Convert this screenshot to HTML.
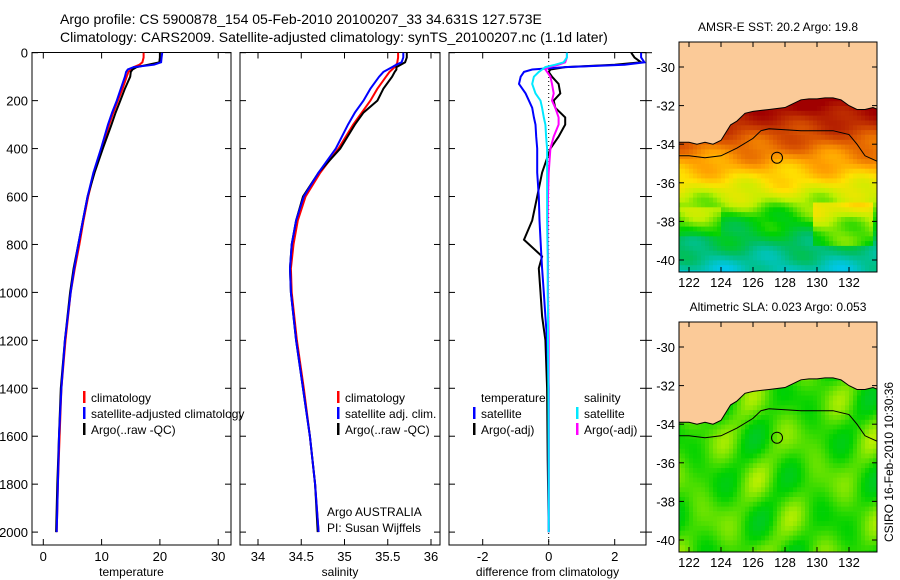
<!DOCTYPE html>
<html><head><meta charset="utf-8">
<style>
body{margin:0;background:#fff;}
svg{display:block;font-family:"Liberation Sans",sans-serif;}
</style></head>
<body>
<svg id="c" width="900" height="580" xmlns="http://www.w3.org/2000/svg">
<text x="60" y="24" font-size="14">Argo profile: CS 5900878_154 05-Feb-2010 20100207_33 34.631S 127.573E</text>
<text x="60" y="42" font-size="14">Climatology: CARS2009. Satellite-adjusted climatology: synTS_20100207.nc (1.1d later)</text>
<g id="g"></g>
<text transform="translate(893,462) rotate(-90)" font-size="12" text-anchor="middle">CSIRO 16-Feb-2010 10:30:36</text>
</svg>
<script>
const depths=[0,20,40,50,60,70,80,100,150,200,250,300,400,500,600,700,800,900,1000,1200,1400,1600,1800,2000];
const tempArgo=[20,20,19.9,18,16,15.3,15,14.9,14,13.2,12.4,11.7,10.2,8.8,7.6,6.8,6.0,5.2,4.6,3.7,3.0,2.7,2.4,2.2];
const tempClim=[17.2,17.2,17,16.5,15.5,15,14.6,14.3,13.6,12.8,12,11.3,10,8.7,7.7,6.9,6.2,5.4,4.7,3.8,3.1,2.8,2.5,2.3];
const tempSat=[20.4,20.3,20.2,19,15.5,14.5,14.2,14,13.3,12.6,11.8,11.1,9.9,8.6,7.6,6.8,6.0,5.3,4.7,3.7,3.1,2.7,2.5,2.3];
const salArgo=[35.72,35.72,35.7,35.65,35.6,35.6,35.58,35.55,35.45,35.38,35.22,35.12,34.95,34.7,34.52,34.44,34.39,34.37,34.38,34.44,34.52,34.6,34.66,34.69];
const salClim=[35.62,35.62,35.61,35.6,35.58,35.55,35.52,35.48,35.38,35.3,35.2,35.1,34.93,34.72,34.55,34.46,34.41,34.38,34.39,34.45,34.53,34.6,34.66,34.7];
const salSat=[35.68,35.68,35.66,35.6,35.55,35.5,35.45,35.4,35.3,35.22,35.12,35.04,34.9,34.7,34.53,34.44,34.39,34.37,34.38,34.44,34.52,34.6,34.66,34.7];
const diffDepths=[0,20,40,50,60,70,80,100,130,170,200,230,270,300,350,400,500,600,700,780,850,900,1000,1100,1200,1400,1700,2000];
const tDiffSat=[2.8,2.8,2.9,2.3,0.5,-0.5,-0.75,-0.85,-0.9,-0.7,-0.6,-0.5,-0.45,-0.4,-0.38,-0.35,-0.35,-0.3,-0.28,-0.25,-0.22,-0.2,-0.15,-0.1,-0.05,0,0,0];
const tDiffArgo=[2.5,2.6,2.8,2.0,0.5,0.05,0,0.1,0.3,0.35,0.15,0.2,0.5,0.5,0.3,0.05,-0.2,-0.35,-0.5,-0.75,-0.2,-0.3,-0.25,-0.2,-0.1,-0.05,-0.03,0];
const sDiffSat=[0.55,0.55,0.45,0.2,-0.1,-0.2,-0.3,-0.45,-0.5,-0.4,-0.25,-0.2,-0.15,-0.1,-0.08,-0.05,-0.05,-0.05,-0.05,-0.04,-0.03,-0.03,-0.03,-0.02,-0.02,-0.01,0,0];
const sDiffArgo=[0.55,0.55,0.5,0.3,0,-0.1,-0.05,0.05,0.1,0.15,0.1,0.2,0.3,0.3,0.15,0.05,0,-0.02,-0.03,-0.03,-0.02,-0.02,-0.02,-0.01,0,0,0,0];
const depthTicks=[0,200,400,600,800,1000,1200,1400,1600,1800,2000];
const tempTicks=[0,10,20,30];
const salTicks=[34,34.5,35,35.5,36];
const diffTicks=[-2,0,2];
const latTicks=[-30,-32,-34,-36,-38,-40];
const lonTicks=[122,124,126,128,130,132];
const coastLon=[121.3,122,122.5,123,123.5,124,124.3,124.6,125,125.5,126,127,128,128.5,129,129.5,130,130.5,131,131.5,132,132.5,133,133.5,133.8];
const coastLat=[-33.9,-33.9,-34.0,-33.9,-34.0,-33.8,-33.4,-33.0,-32.8,-32.4,-32.3,-32.2,-32.1,-31.9,-31.7,-31.65,-31.65,-31.6,-31.6,-31.7,-32.0,-32.2,-32.2,-32.1,-32.2];
const contLon=[121.3,122,123,124,125,126,126.5,127,128,129,130,131,132,132.5,133,133.8];
const contLat=[-34.6,-34.6,-34.7,-34.6,-34.2,-33.7,-33.3,-33.2,-33.25,-33.3,-33.3,-33.3,-33.5,-34.0,-34.6,-34.9];

const NS="http://www.w3.org/2000/svg";
const G=document.getElementById('g');
function el(t,a,p){const e=document.createElementNS(NS,t);for(const k in a)e.setAttribute(k,a[k]);(p||G).appendChild(e);return e;}
const yD=d=>52.7+d*0.2397;

function panel(name,x0,x1,xs,ticks,fmt,label,rightTicks){
  const g=el('g',{});
  
  
  el('rect',{x:x0,y:52.5,width:x1-x0,height:492.5,fill:'none',stroke:'#000','stroke-width':1},g);
  depthTicks.forEach(d=>{const y=yD(d);
    el('line',{x1:x0,x2:x0+6,y1:y,y2:y,stroke:'#000'},g);
    el('line',{x1:x1-6,x2:x1,y1:y,y2:y,stroke:'#000'},g);
    if(x0<40){const t=el('text',{x:x0-4,y:y+5,'font-size':13,'text-anchor':'end'},g);t.textContent=d;
      }
    if(rightTicks){el('line',{x1:x1,x2:x1+6,y1:y,y2:y,stroke:'#000'},g);}
  });
  ticks.forEach(v=>{const x=xs(v);
    el('line',{x1:x,x2:x,y1:545,y2:539,stroke:'#000'},g);
    el('line',{x1:x,x2:x,y1:52.5,y2:58.5,stroke:'#000'},g);
    const t=el('text',{x:x,y:561,'font-size':13,'text-anchor':'middle'},g);t.textContent=fmt(v);
    
  });
  const t=el('text',{x:(x0+x1)/2,y:576,'font-size':12,'text-anchor':'middle'},g);t.textContent=label;
  
  return g;
}
function line(g,xs,vals,ds,col,name,w){
  const pts=vals.map((v,i)=>xs(v).toFixed(1)+','+yD(ds[i]).toFixed(1)).join(' ');
  const p=el('polyline',{points:pts,fill:'none',stroke:col,'stroke-width':w||2},g);
  
  
}
function legend(g,x,y,items){
  items.forEach((it,i)=>{
    el('rect',{x:x,y:y+i*16-11,width:2.5,height:12,fill:it[1]},g);
    const t=el('text',{x:x+8,y:y+i*16,'font-size':12},g);t.textContent=it[0];
    
  });
}
const xT=v=>43.3+v*5.83;
const p1=panel('temperature-panel',32,231,xT,tempTicks,v=>v,'temperature',false);
line(p1,xT,tempClim,depths,'#f00','temp-climatology-line');
line(p1,xT,tempArgo,depths,'#000','temp-argo-line');
line(p1,xT,tempSat,depths,'#0000ff','temp-satellite-line');
legend(p1,83,402,[['climatology','#f00'],['satellite-adjusted climatology','#00f'],['Argo(..raw -QC)','#000']]);
const xS=v=>258+(v-34)*86.5;
const p2=panel('salinity-panel',240,440,xS,salTicks,v=>v,'salinity',false);
line(p2,xS,salClim,depths,'#f00','sal-climatology-line');
line(p2,xS,salArgo,depths,'#000','sal-argo-line');
line(p2,xS,salSat,depths,'#0000ff','sal-satellite-line');
legend(p2,337,402,[['climatology','#f00'],['satellite adj. clim.','#00f'],['Argo(..raw -QC)','#000']]);
[['Argo AUSTRALIA',516],['PI: Susan Wijffels',532]].forEach(a=>{const t=el('text',{x:327,y:a[1],'font-size':12},p2);t.textContent=a[0];
 });
const xF=v=>548.7+v*33;
const p3=panel('difference-panel',449,646,xF,diffTicks,v=>v,'difference from climatology',true);
el('line',{x1:xF(0),x2:xF(0),y1:53,y2:545,stroke:'#000','stroke-dasharray':'1,3'},p3);
line(p3,xF,tDiffArgo,diffDepths,'#000','temp-diff-argo-line');
line(p3,xF,tDiffSat,diffDepths,'#0000ff','temp-diff-satellite-line');
line(p3,xF,sDiffArgo,diffDepths,'#ff00ff','sal-diff-argo-line');
line(p3,xF,sDiffSat,diffDepths,'#00e8ff','sal-diff-satellite-line');
{const t=el('text',{x:481,y:402,'font-size':12},p3);t.textContent='temperature';
 const u=el('text',{x:584,y:402,'font-size':12},p3);u.textContent='salinity';}
legend(p3,473,418,[['satellite','#00f'],['Argo(-adj)','#000']]);
legend(p3,576,418,[['satellite','#00e8ff'],['Argo(-adj)','#ff00ff']]);

const stops=[[0,[0,80,255]],[0.15,[0,200,255]],[0.3,[0,190,100]],[0.4,[0,210,0]],[0.5,[190,240,0]],[0.6,[255,225,0]],[0.7,[255,160,0]],[0.8,[225,95,0]],[0.9,[190,45,0]],[1,[160,0,0]]];
function cmap(t){t=Math.max(0,Math.min(1,t));for(let i=1;i<stops.length;i++){if(t<=stops[i][0]){const a=stops[i-1],b=stops[i],f=(t-a[0])/(b[0]-a[0]);return 'rgb('+a[1].map((c,k)=>Math.round(c+(b[1][k]-c)*f)).join(',')+')';}}return 'rgb(160,0,0)';}
function map(name,top,title,field){
  const g=el('g',{});
  
  const x0=679,x1=877,y0=top,y1=top+230;
  const lx=l=>689+(l-122)*16, ly=a=>top+25+(-30-a)*19.3;
  const clip='clip'+top;
  const cp=el('clipPath',{id:clip},g);el('rect',{x:x0,y:y0,width:x1-x0,height:y1-y0},cp);
  const inner=el('g',{'clip-path':'url(#'+clip+')'},g);
  for(let lon=121.25;lon<134;lon+=0.25)for(let lat=-41;lat<-31;lat+=0.25){
    el('rect',{x:lx(lon).toFixed(1),y:ly(lat+0.25).toFixed(1),width:4.3,height:5.2,fill:field(lon,lat)},inner);
  }
  const land='121,'+(top-5)+' '+coastLon.map((l,i)=>lx(l)+','+ly(coastLat[i])).join(' ')+' 880,'+ly(-32.2)+' 880,'+(top-5);
  el('polygon',{points:land,fill:'#fbca98',stroke:'none'},inner);
  const cpts=coastLon.map((l,i)=>lx(l)+','+ly(coastLat[i])).join(' ');
  el('polyline',{points:cpts,fill:'none',stroke:'#000','stroke-width':1},inner);
  const kpts=contLon.map((l,i)=>lx(l)+','+ly(contLat[i])).join(' ');
  el('polyline',{points:kpts,fill:'none',stroke:'#000','stroke-width':1},inner);
  const c=el('circle',{cx:lx(127.5),cy:ly(-34.7),r:5.5,fill:'none',stroke:'#000','stroke-width':1},g);
  
  el('rect',{x:x0,y:y0,width:x1-x0,height:y1-y0,fill:'none',stroke:'#000'},g);
  latTicks.forEach(a=>{const y=ly(a);el('line',{x1:x0,x2:x0+5,y1:y,y2:y,stroke:'#000'},g);el('line',{x1:x1-5,x2:x1,y1:y,y2:y,stroke:'#000'},g);
    const t=el('text',{x:x0-4,y:y+5,'font-size':13,'text-anchor':'end'},g);t.textContent=a;});
  lonTicks.forEach(l=>{const x=lx(l);el('line',{x1:x,x2:x,y1:y0,y2:y0+5,stroke:'#000'},g);el('line',{x1:x1-5>0?x:x,x2:x,y1:y1-5,y2:y1,stroke:'#000'},g);
    const t=el('text',{x:x,y:y1+15,'font-size':13,'text-anchor':'middle'},g);t.textContent=l;});
  const t=el('text',{x:(x0+x1)/2,y:y0-11,'font-size':12,'text-anchor':'middle'},g);t.textContent=title;
  
}
map('sst-map',42,'AMSR-E SST: 20.2 Argo: 19.8',(lon,lat)=>{
  let t=lat>-38?0.6+(lat+36)*0.1:0.4+(lat+38)*0.07;
  t+=0.03*Math.sin(lon*1.7+lat*2.3)+0.025*Math.sin(lon*0.9-lat*3.1);
  if(lat<-37&&lat>-39.5&&lon>129.5&&lon<133.5)t+=0.1;
  if(lat<-37.3&&lat>-39&&lon<124)t+=0.05;
  return cmap(t);
});
map('sla-map',322,'Altimetric SLA: 0.023 Argo: 0.053',(lon,lat)=>{
  const v=Math.sin(lon*1.3+1)*Math.sin(lat*1.5+0.5)+0.5*Math.sin(lon*2.1-lat*1.2);
  return cmap(0.43+0.045*v);
});
</script>
</body></html>
